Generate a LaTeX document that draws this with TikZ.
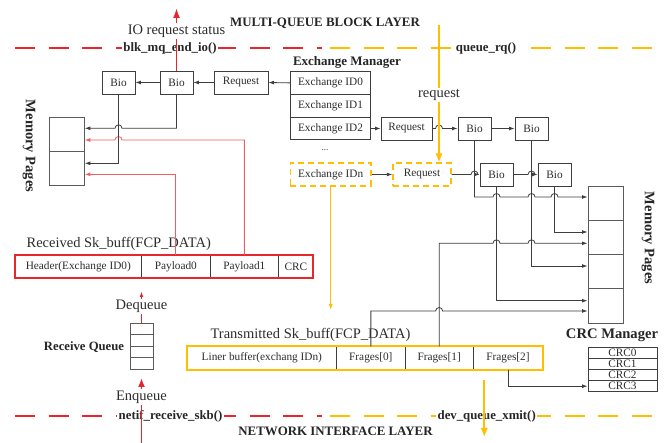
\documentclass[tikz,border=0pt]{standalone}
\usepackage{fontspec}
\setmainfont{Liberation Serif}
\usetikzlibrary{arrows.meta,calc}

\definecolor{lnred}{RGB}{232,38,44}
\definecolor{lnpink}{RGB}{240,95,95}
\definecolor{lnyel}{RGB}{255,190,0}
\definecolor{ink}{RGB}{62,62,62}
\definecolor{txt}{RGB}{45,45,45}

% a small bump where a horizontal connector crosses a vertical one
\newcommand{\hopR}[2]{-- ({#1-3.5},#2) arc[start angle=180,end angle=0,radius=3.5pt]}
\newcommand{\hopL}[2]{-- ({#1+3.5},#2) arc[start angle=0,end angle=180,radius=3.5pt]}

\tikzset{
  small/.style={font=\fontsize{11.3}{13}\selectfont},
  big/.style={font=\fontsize{14.5}{16}\selectfont, text=txt},
  heading/.style={font=\bfseries\fontsize{12.8}{14}\selectfont, text=black!85},
  box/.style={draw=ink, line width=0.8pt, minimum width=33pt, minimum height=23pt,
    inner sep=0pt, small, text=txt},
  dbox/.style={box, draw=lnyel, line width=1.3pt, dash pattern=on 6pt off 4pt},
  cell/.style={draw=ink, line width=0.8pt, inner sep=0pt, small, text=txt},
  mem/.style={draw=ink!85, line width=0.9pt, minimum width=35pt, inner sep=0pt},
  conn/.style={draw=ink, line width=0.8pt, -{Latex[length=5.5pt,width=3.8pt]}},
  pconn/.style={conn, draw=lnpink, -{Latex[length=5.5pt,width=3.8pt]}},
  layerline/.style={line width=1.8pt, dash pattern=on 20pt off 13.5pt},
  fnlabel/.style={heading, fill=white, inner xsep=1.5pt, inner ysep=1pt},
  redup/.style={draw=lnred, line width=1.8pt, -{Latex[length=10pt,width=7pt]}},
  yeldown/.style={draw=lnyel, line width=2.2pt, -{Latex[length=9pt,width=7.5pt]}},
  overlbl/.style={big, fill=white, inner sep=1.5pt}
}

\begin{document}
\begin{tikzpicture}[x=1pt,y=-1pt]
\useasboundingbox (0,0) rectangle (667,443);
\fill[white] (0,0) rectangle (667,443);

% ---------------- layer boundaries ----------------
\draw[layerline, draw=lnred] (15,48) -- (322,48);
\draw[layerline, draw=lnyel, dash phase=-8pt] (322,48) -- (657,48);
\draw[layerline, draw=lnred] (15,416) -- (322,416);
\draw[layerline, draw=lnyel, dash phase=-8pt] (322,416) -- (657,416);

\node[heading, font=\bfseries\fontsize{12.9}{14}\selectfont] (mqtitle) at (325,23) {MULTI-QUEUE BLOCK LAYER};
\node[heading, font=\bfseries\fontsize{12.9}{14}\selectfont] (nititle) at (335.5,431.5) {NETWORK INTERFACE LAYER};
\node[fnlabel] (endio) at (170,48) {blk\_mq\_end\_io()};
\node[fnlabel] (queuerq) at (486,48) {queue\_rq()};
\node[fnlabel] (netif) at (170.5,416) {netif\_receive\_skb()};
\node[fnlabel] (devq) at (486.7,416) {dev\_queue\_xmit()};

% ---------------- exchange manager ----------------
\node[heading, font=\bfseries\fontsize{13}{14}\selectfont] (exmgr) at (347,62) {Exchange Manager};
\node[cell, minimum width=80pt, minimum height=22.8pt] (id0) at (330.5,82.9) {Exchange ID0};
\node[cell, minimum width=80pt, minimum height=22.8pt] (id1) at (330.5,105.7) {Exchange ID1};
\node[cell, minimum width=80pt, minimum height=22.8pt] (id2) at (330.5,128.5) {Exchange ID2};
\node[font=\fontsize{9}{10}\selectfont, text=txt] (dots) at (325,150) {...};
\node[dbox, minimum width=80.5pt] (idn) at (330.7,174.5) {Exchange IDn};

% ---------------- requests and bios ----------------
\node[box, minimum width=54pt] (req1) at (241,82.5) {Request};
\node[box] (bio2) at (176.5,82.5) {Bio};
\node[box] (bio1) at (118.5,82.5) {Bio};

\node[box, minimum width=51pt] (req2) at (406.5,128.5) {Request};
\node[box] (bioA) at (474.5,128.5) {Bio};
\node[box] (bioB) at (531.5,128.5) {Bio};

\node[dbox, minimum width=58pt] (req3) at (422,174.5) {Request};
\node[box] (bioC) at (496.5,174.5) {Bio};
\node[box] (bioD) at (554.5,174.5) {Bio};

% ---------------- memory pages ----------------
\node[mem, minimum height=34.3pt] (mL1) at (66.8,134.45) {};
\node[mem, minimum height=34.3pt] (mL2) at (66.8,168.75) {};
\node[heading, font=\bfseries\fontsize{14.5}{16}\selectfont, rotate=-90] (memLlbl) at (29,146) {Memory Pages};

\node[mem, minimum height=34.25pt] (mR1) at (605.5,203.1) {};
\node[mem, minimum height=34.25pt] (mR2) at (605.5,237.4) {};
\node[mem, minimum height=34.25pt] (mR3) at (605.5,271.6) {};
\node[mem, minimum height=34.25pt] (mR4) at (605.5,305.9) {};
\node[heading, font=\bfseries\fontsize{14.5}{16}\selectfont, rotate=-90] (memRlbl) at (648,238) {Memory Pages};

% ---------------- received sk_buff ----------------
\node[big] (rxlbl) at (118.7,244) {Received Sk\_buff(FCP\_DATA)};
\node[cell, minimum width=126.7pt, minimum height=22.7pt] (hdr) at (78.35,266.35) {Header(Exchange ID0)};
\node[cell, minimum width=68.3pt, minimum height=22.7pt] (pay0) at (175.85,266.35) {Payload0};
\node[cell, minimum width=68.7pt, minimum height=22.7pt] (pay1) at (244.35,266.35) {Payload1};
\node[cell, minimum width=34.3pt, minimum height=22.7pt] (crc) at (295.85,266.35) {CRC};
\draw[draw=lnred, line width=2pt] (hdr.north west) rectangle (crc.south east);

% ---------------- receive queue ----------------
\node[cell, draw=ink!85, minimum width=23pt, minimum height=11.5pt] (rq1) at (141.5,329.05) {};
\node[cell, draw=ink!85, minimum width=23pt, minimum height=11.5pt] (rq2) at (141.5,340.55) {};
\node[cell, draw=ink!85, minimum width=23pt, minimum height=11.5pt] (rq3) at (141.5,352.05) {};
\node[cell, draw=ink!85, minimum width=23pt, minimum height=11.5pt] (rq4) at (141.5,363.55) {};
\node[heading, font=\bfseries\fontsize{12.7}{14}\selectfont] (rqlbl) at (84,347) {Receive Queue};

% ---------------- transmitted sk_buff ----------------
\node[big] (txlbl) at (310.5,335) {Transmitted Sk\_buff(FCP\_DATA)};
\node[cell, minimum width=149.7pt, minimum height=22.3pt] (liner) at (261.85,358) {Liner buffer(exchang IDn)};
\node[cell, minimum width=68.3pt, minimum height=22.3pt] (frag0) at (370.85,358) {Frages[0]};
\node[cell, minimum width=68.3pt, minimum height=22.3pt] (frag1) at (439.15,358) {Frages[1]};
\node[cell, minimum width=69.4pt, minimum height=22.3pt] (frag2) at (508,358) {Frages[2]};
\draw[draw=lnyel, line width=2pt] (liner.north west) rectangle (frag2.south east);

% ---------------- CRC manager ----------------
\node[heading, font=\bfseries\fontsize{14.6}{16}\selectfont] (crcmgr) at (612,335) {CRC Manager};
\node[cell, minimum width=69pt, minimum height=11.2pt] (crc0) at (622.5,352.6) {CRC0};
\node[cell, minimum width=69pt, minimum height=11.2pt] (crc1) at (622.5,363.8) {CRC1};
\node[cell, minimum width=69pt, minimum height=11.2pt] (crc2) at (622.5,375.0) {CRC2};
\node[cell, minimum width=69pt, minimum height=11.2pt] (crc3) at (622.5,386.2) {CRC3};

% ---------------- chains ----------------
\draw[conn] (id0.west) -- (req1.east);
\draw[conn] (req1.west) -- (bio2.east);
\draw[conn] (bio2.west) -- (bio1.east);
\draw[conn] (id2.east) -- (req2.west);
\draw[conn] (req2.east) \hopR{439}{128.5} -- (bioA.west);
\draw[conn] (bioA.east) -- (bioB.west);
\draw[conn] (idn.east) -- (req3.west);
\draw[conn] (req3.east) \hopR{474.5}{174.5} -- (bioC.west);
\draw[conn] (bioC.east) \hopR{531.5}{174.5} -- (bioD.west);

% ---------------- pages on the receive side ----------------
\draw[conn] (bio2.south) -- (176.5,128.3) \hopL{118.5}{128.3} -- (mL1.east |- 0,128.3);
\draw[pconn] (pay1.north) -- (244.35,140) \hopL{118.5}{140} -- (mL1.east |- 0,140);
\draw[conn] (bio1.south) |- (mL2.east |- 0,163.3);
\draw[pconn] (pay0.north) |- (mL2.east |- 0,174.3);

% ---------------- pages on the transmit side ----------------
\draw[conn] (bioA.south) -- (474.5,197) \hopR{496.5}{197} \hopR{531.5}{197} \hopR{554.5}{197} -- (mR1.west |- 0,197);
\draw[conn] (bioD.south) |- (mR2.west |- 0,232);
\draw[conn] (frag1.north) -- (439.15,243.3) \hopR{496.5}{243.3} \hopR{531.5}{243.3} -- (mR2.west |- 0,243.3);
\draw[conn] (bioB.south) |- (mR3.west |- 0,266);
\draw[conn] (bioC.south) |- (mR4.west |- 0,300.7);
\draw[conn] (frag0.north) -- (370.85,311) \hopR{439.15}{311} -- (mR4.west |- 0,311);
\draw[conn] (frag2.south) |- (crc3.west);

% ---------------- flow between the layers ----------------
\coordinate (ioTop) at (176.5,8);
\draw[redup] (bio2.north) -- (ioTop);
\node[overlbl] (iostat) at (176.5,31) {IO request status};

\coordinate (rqTop) at (439,25);
\draw[yeldown] (rqTop) -- (rqTop |- req3.north);
\node[overlbl] (reqlbl) at (439,95) {request};

\coordinate (txTop) at (330.7,310);
\draw[draw=lnyel, line width=1pt, -{Latex[length=6pt,width=4pt]}] (idn.south) -- (txTop);

\coordinate (deqTip) at (141.5,291.5);
\draw[draw=lnred, line width=1pt, -{Latex[length=5.5pt,width=3.8pt]}] (rq1.north) -- (deqTip);
\node[overlbl] (deq) at (141.5,306.7) {Dequeue};

\coordinate (enqBot) at (141.5,443);
\coordinate (enqTip) at (141.5,378);
\draw[redup, -{Latex[length=9pt,width=7pt]}] (enqBot) -- (enqTip);
\node[overlbl] (enq) at (141.5,397) {Enqueue};

\coordinate (xmitTop) at (484.3,380);
\coordinate (xmitBot) at (484.3,437);
\draw[yeldown] (xmitTop) -- (xmitBot);
\end{tikzpicture}
\end{document}
